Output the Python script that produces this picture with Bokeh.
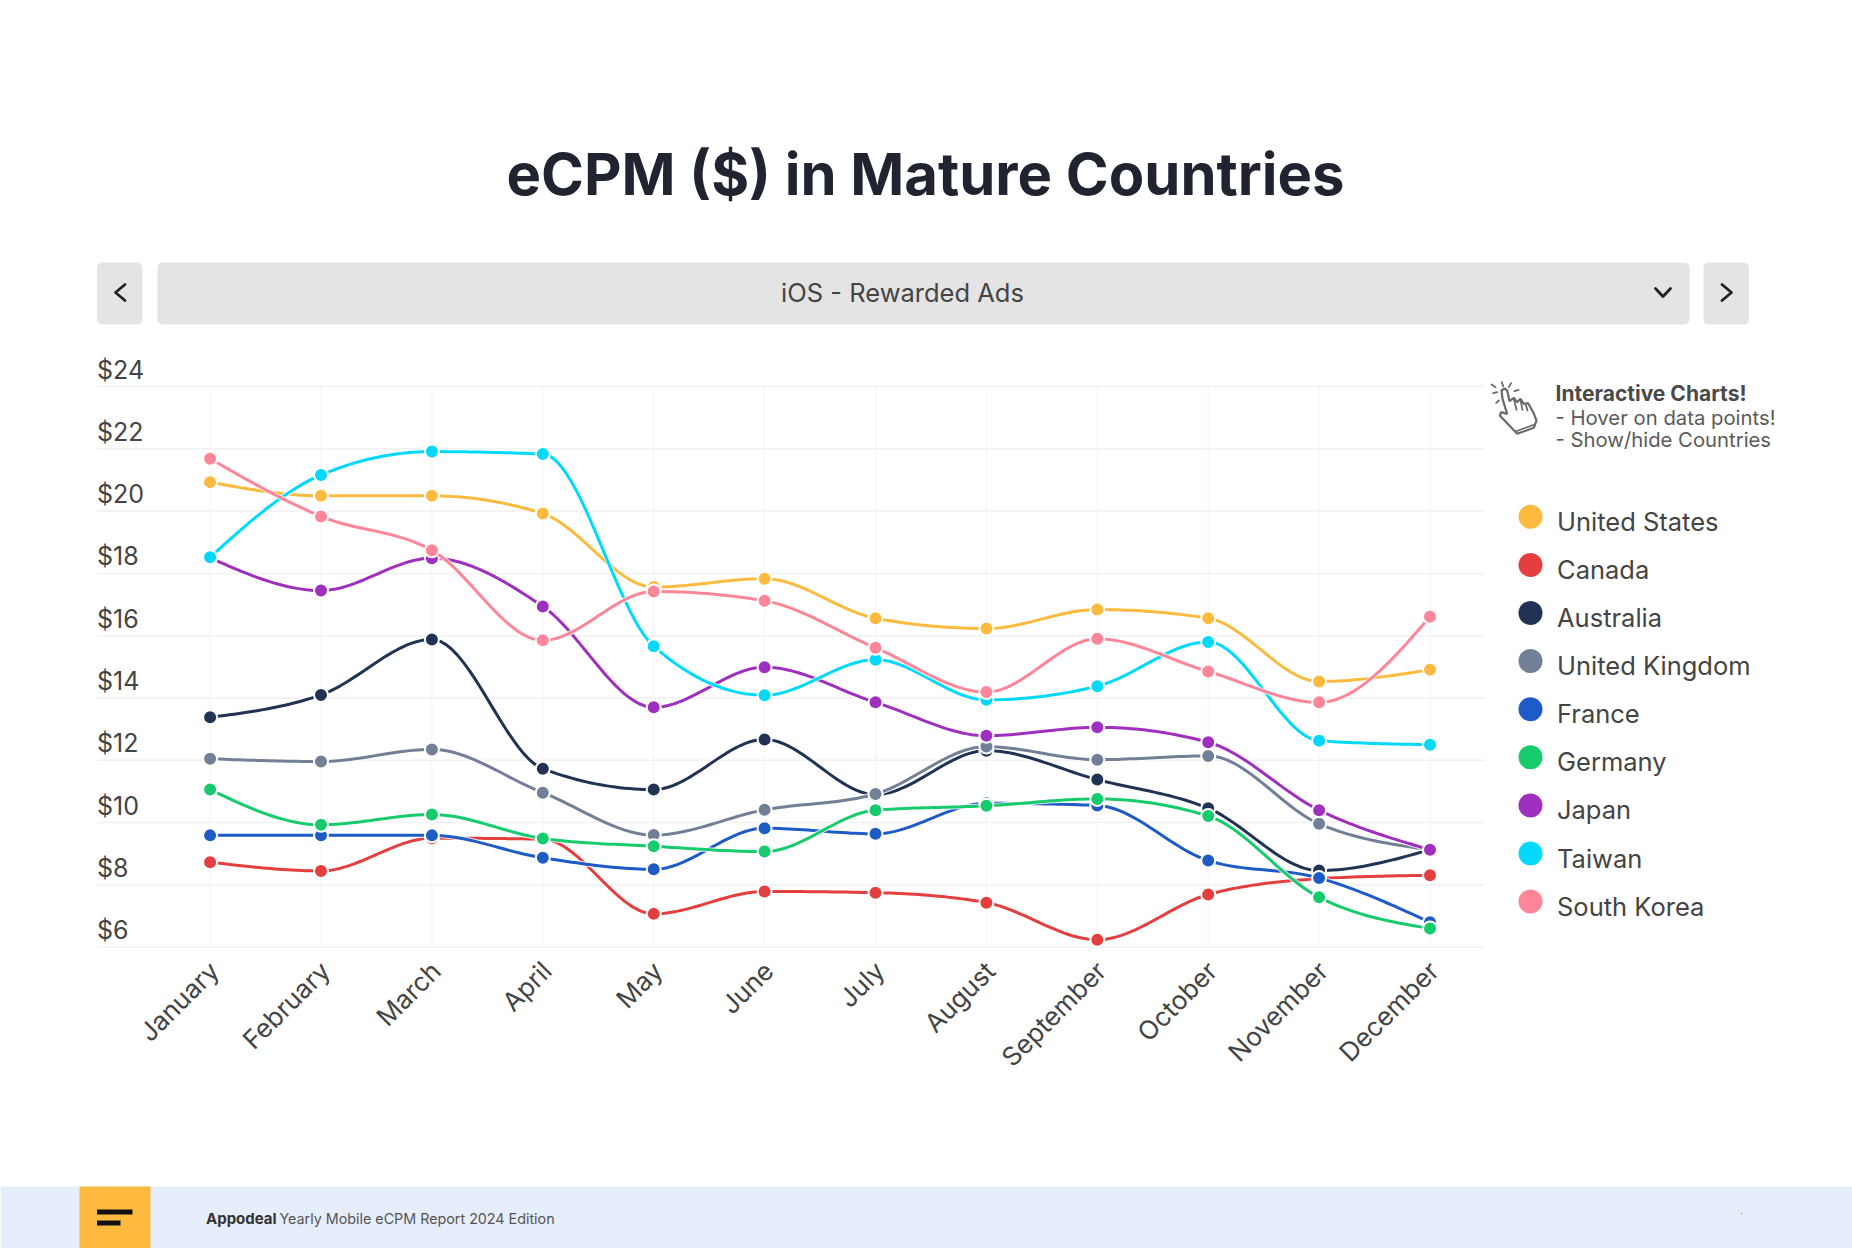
from bokeh.plotting import figure
from bokeh.models import Range1d
from bokeh.core.properties import value
from bokeh.embed import file_html
from bokeh.resources import INLINE
import numpy as np

months = ["January","February","March","April","May","June","July","August","September","October","November","December"]
y_ticks = [24,22,20,18,16,14,12,10,8,6]

united_states  = [20.93,20.49,20.49,19.92,17.56,17.83,16.56,16.23,16.84,16.56,14.53,14.91]
canada         = [8.73,8.45,9.50,9.47,7.07,7.79,7.75,7.43,6.24,7.69,8.20,8.31]
australia      = [13.38,14.10,15.88,11.73,11.06,12.67,10.90,12.31,11.38,10.46,8.46,9.13]
united_kingdom = [12.05,11.96,12.35,10.96,9.60,10.41,10.92,12.44,12.02,12.14,9.96,9.13]
france         = [9.59,9.59,9.59,8.87,8.50,9.82,9.64,10.62,10.55,8.78,8.22,6.80]
germany        = [11.06,9.93,10.26,9.49,9.24,9.07,10.40,10.54,10.76,10.21,7.60,6.60]
japan          = [18.50,17.45,18.49,16.94,13.70,14.99,13.86,12.79,13.06,12.58,10.40,9.13]
taiwan         = [18.52,21.16,21.91,21.83,15.66,14.09,15.23,13.94,14.38,15.80,12.63,12.50]
south_korea    = [21.68,19.83,18.74,15.85,17.42,17.12,15.61,14.19,15.90,14.85,13.86,16.61]

names = ["United States","Canada","Australia","United Kingdom","France","Germany","Japan","Taiwan","South Korea"]
colors = ["#FDBA3F","#E53E3E","#203354","#718096","#1E5BC6","#16CB6B","#9F2FBE","#00D9FB","#FF8599"]
series = [united_states,canada,australia,united_kingdom,france,germany,japan,taiwan,south_korea]

W, H = 1852, 1248
FONT = "Inter"
TXT = "#444444"

px_per_month = (1429.5-209.6)/11
px_per_usd = (946.7-386)/18
xlo = -209.6/px_per_month
xhi = xlo + W/px_per_month
yhi = 24 + 386/px_per_usd
ylo = yhi - H/px_per_usd

p = figure(width=W, height=H, x_range=Range1d(xlo,xhi), y_range=Range1d(ylo,yhi),
           x_axis_type=None, y_axis_type=None, toolbar_location=None, output_backend="svg",
           min_border=0, min_border_left=0, min_border_right=0, min_border_top=0, min_border_bottom=0,
           outline_line_color=None, background_fill_color="white", border_fill_color="white")
p.grid.visible = False

p.extra_x_ranges["px"] = Range1d(0, W)
p.extra_y_ranges["px"] = Range1d(H, 0)
PX = dict(x_range_name="px", y_range_name="px")

def ptxt(x, y, s, size, color=TXT, weight="normal", align="left", font=FONT):
    p.text([x],[y],text=[s],text_font=value(font),text_font_size=f"{size}px",text_color=color,
           text_font_style=weight,text_align=align,text_baseline="middle",**PX)

# grid
x_left = xlo+96.5/px_per_month
x_right = xlo+1484/px_per_month
p.segment(x0=list(range(12)),x1=list(range(12)),y0=[6]*12,y1=[24]*12,line_color="#f3f3f4",line_width=1)
p.segment(x0=[x_left]*10,x1=[x_right]*10,y0=y_ticks,y1=y_ticks,line_color="#f1f1f2",line_width=1.5)

# title
ptxt(925,173.5,"eCPM ($) in Mature Countries",58,color="#1f2430",weight="bold",align="center")

# selector
p.quad(left=[96.5,157,1703],right=[142,1689,1748.5],top=[262]*3,bottom=[324]*3,fill_color="#e4e4e4",
       line_color=None,border_radius=5,**PX)
ptxt(902,292,"iOS - Rewarded Ads",25.5,color="#444444",align="center")
for xs,ys in [([124.5,115,124.5],[284,292,300]),([1721.5,1731,1721.5],[284,292,300]),([1655,1662.5,1670],[288,296,288])]:
    p.line(xs,ys,line_color="#222222",line_width=2.8,line_cap="round",line_join="round",**PX)

# tick labels
p.text([x_left]*len(y_ticks),y_ticks,text=[f"${v}" for v in y_ticks],
       text_font=value(FONT),text_font_size="25px",text_color=TXT,text_align="left",
       text_baseline="middle",y_offset=-17)
p.text(list(range(12)),[6]*12,text=months,angle=np.pi/4,text_font=value(FONT),text_font_size="26px",
       text_color=TXT,text_align="right",text_baseline="middle",x_offset=4,y_offset=19)

# series: monotone cubic curve through the read values
def monotone(vals, n=24):
    y = np.array(vals,float)
    s = np.diff(y)
    m = np.zeros(12)
    for i in range(1,11):
        a, b = s[i-1], s[i]
        m[i] = (np.sign(a)+np.sign(b))*min(abs(a),abs(b),0.5*abs((a+b)/2))
    m[0] = (3*s[0]-m[1])/2
    m[11] = (3*s[10]-m[10])/2
    xs, ys = [], []
    t = np.linspace(0,1,n)
    for i in range(11):
        y0,y1,y2,y3 = y[i], y[i]+m[i]/3, y[i+1]-m[i+1]/3, y[i+1]
        xs.append(i+t)
        ys.append((1-t)**3*y0+3*t*(1-t)**2*y1+3*t*t*(1-t)*y2+t**3*y3)
    return np.concatenate(xs), np.concatenate(ys)

for vals,c in zip(series,colors):
    sx,sy = monotone(vals)
    p.line(sx,sy,line_color="white",line_width=5,line_alpha=0.8,line_join="round")
    p.line(sx,sy,line_color=c,line_width=3,line_join="round")
    p.scatter(list(range(12)),vals,size=14,fill_color=c,line_color="white",line_width=2)

# hint icon
hand_x = [63,72,80,87,100,110,120,130,143,158,168,160,110,58,62,80,66,63]
hand_y = [60,54,60,92,82,95,85,100,98,125,150,172,190,135,125,130,85,60]
to_x = lambda v: 1480+v/3
to_y = lambda v: 370+v/3
p.patch([to_x(v) for v in hand_x],[to_y(v) for v in hand_y],fill_color="white",line_color="#6a6a6a",line_width=2.2,**PX)
for (a,b,c_,d) in [(100,85,108,118),(120,88,126,118),(135,100,141,120),(33,42,45,50),(64,35,68,47),(92,38,85,50),
                   (114,58,102,62),(38,68,50,65),(55,90,47,97),(105,183,162,162)]:
    p.line([to_x(a),to_x(c_)],[to_y(b),to_y(d)],line_color="#6a6a6a",line_width=1.8,line_cap="round",**PX)

# hint
ptxt(1555,393,"Interactive Charts!",21,color="#4a4a4a",weight="bold")
ptxt(1555,416.7,"- Hover on data points!",20.3,color="#5a5a5a")
ptxt(1555,439.3,"- Show/hide Countries",20.3,color="#5a5a5a")

# legend
for i,(n,c) in enumerate(zip(names,colors)):
    y = 516.3+48.1*i
    p.scatter([1530],[y],size=24,fill_color=c,line_color=None,**PX)
    ptxt(1556.5,y+4.5,n,25.5,color="#444444")

# footer
p.quad(left=[0],right=[W],top=[1186],bottom=[H],fill_color="#e6edfb",line_color=None,**PX)
p.quad(left=[79],right=[150],top=[1186],bottom=[H],fill_color="#FDBA3F",line_color=None,**PX)
p.quad(left=[96.5,96.5],right=[132,120],top=[1209,1220],bottom=[1214,1225],fill_color="#111111",line_color=None,**PX)
p.quad(left=[1740.5],right=[1741.5],top=[1212.5],bottom=[1214],fill_color="#8a8f99",line_color=None,**PX)
ptxt(205.5,1217.7,"Appodeal",15,color="#333333",weight="bold")
ptxt(279,1217.7,"Yearly Mobile eCPM Report 2024 Edition",14.3,color="#555555")

open("out.html","w").write(file_html(p,INLINE))
